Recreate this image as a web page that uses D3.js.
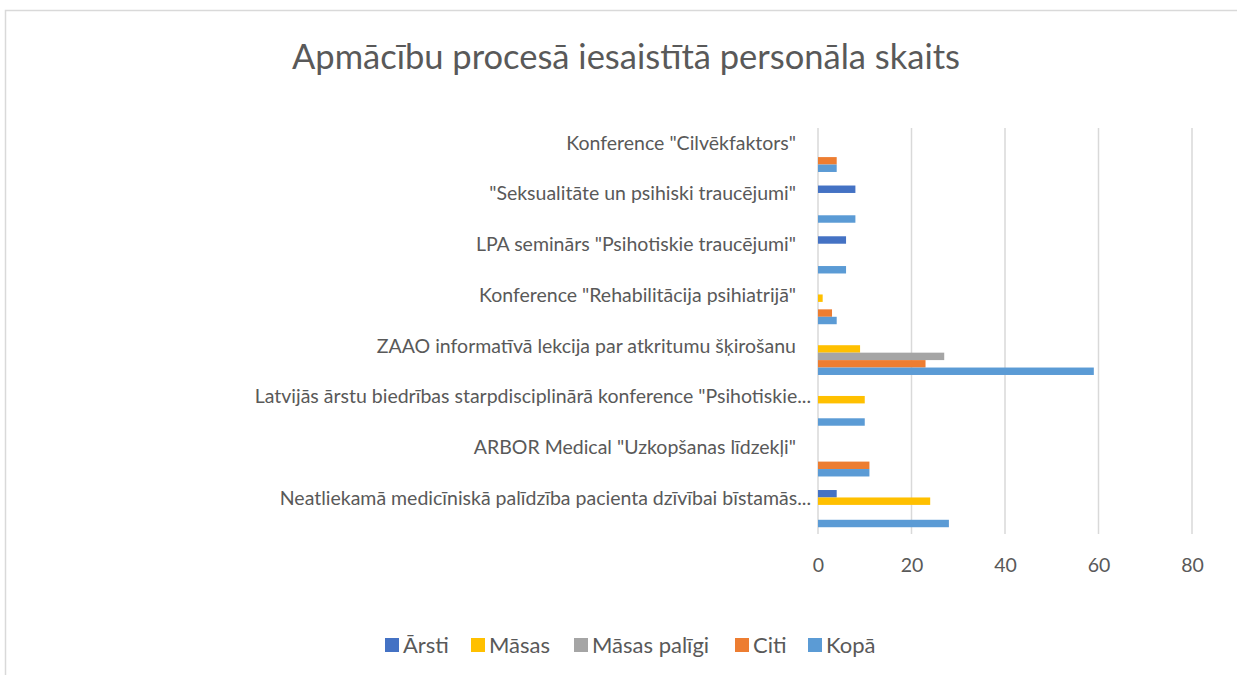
<!DOCTYPE html>
<html>
<head>
<meta charset="utf-8">
<script src="https://cdn.jsdelivr.net/npm/d3@7"></script>
<style>
	body { margin: 0; background: #ffffff; }
	svg text { font-family: Lato, "Open Sans", sans-serif; fill: #595959; }
</style>
</head>
<body>
<svg id="canvas" width="1237" height="675"></svg>
<script>
const title = 'Apmācību procesā iesaistītā personāla skaits';

// categories, top to bottom as shown
const categories = [
	'Konference "Cilvēkfaktors"',
	'"Seksualitāte un psihiski traucējumi"',
	'LPA seminārs "Psihotiskie traucējumi"',
	'Konference "Rehabilitācija psihiatrijā"',
	'ZAAO informatīvā lekcija par atkritumu šķirošanu',
	'Latvijās ārstu biedrības starpdisciplinārā konference "Psihotiskie...',
	'ARBOR Medical "Uzkopšanas līdzekļi"',
	'Neatliekamā medicīniskā palīdzība pacienta dzīvībai bīstamās...'
];

const seriesNames = ['Ārsti', 'Māsas', 'Māsas palīgi', 'Citi', 'Kopā'];
const seriesColors = ['#4472c4', '#ffc000', '#a5a5a5', '#ed7d31', '#5b9bd5'];

const arsti       = [0, 8, 6, 0, 0, 0, 0, 4];
const masas       = [0, 0, 0, 1, 9, 10, 0, 24];
const masasPaligi = [0, 0, 0, 0, 27, 0, 0, 0];
const citi        = [4, 0, 0, 3, 23, 0, 11, 0];
const kopa        = [4, 8, 6, 4, 59, 10, 11, 28];

const xTicks = [0, 20, 40, 60, 80];

const seriesValues = [arsti, masas, masasPaligi, citi, kopa];

const svg = d3.select('#canvas');

// chart border (only top and left edges are visible in the frame)
svg.append('rect')
	.attr('x', 5.5).attr('y', 10.5)
	.attr('width', 1260).attr('height', 700)
	.attr('fill', 'none')
	.attr('stroke', '#d9d9d9')
	.attr('stroke-width', 1.5);

svg.append('text')
	.attr('x', 626).attr('y', 57)
	.attr('dy', '0.35em')
	.attr('text-anchor', 'middle')
	.style('font-size', '34.5px')
	.text(title);

const x = d3.scaleLinear().domain([0, 80]).range([818, 1192]);
const y0 = d3.scaleBand().domain(categories).range([128, 534]);
const y1 = d3.scaleBand().domain(seriesNames).range([0, y0.bandwidth()]).paddingOuter(0.91);

// grid
svg.append('g').selectAll('line')
	.data(xTicks)
	.enter()
	.append('line')
	.attr('x1', (d) => x(d)).attr('x2', (d) => x(d))
	.attr('y1', 128).attr('y2', 534)
	.attr('stroke', '#d9d9d9')
	.attr('stroke-width', 1.5);

// x axis labels
const xAxis = svg.append('g')
	.attr('transform', 'translate(0,565)')
	.call(d3.axisBottom(x).tickValues(xTicks).tickSize(0).tickPadding(0));
xAxis.select('.domain').remove();
xAxis.selectAll('text').style('font-size', '19.5px').attr('y', 0).attr('dy', '0.35em');

// bars
const groups = svg.append('g').selectAll('g')
	.data(categories)
	.enter()
	.append('g')
	.attr('transform', (d) => 'translate(0,' + y0(d) + ')');

groups.selectAll('rect')
	.data((d, i) => seriesNames.map((s, j) => ({ s: s, v: seriesValues[j][i], c: seriesColors[j] })))
	.enter()
	.append('rect')
	.attr('x', x(0))
	.attr('y', (d) => y1(d.s))
	.attr('width', (d) => x(d.v) - x(0))
	.attr('height', y1.bandwidth())
	.attr('fill', (d) => d.c);

// category labels
svg.append('g').selectAll('text')
	.data(categories)
	.enter()
	.append('text')
	.attr('x', (d) => d.endsWith('...') ? 811 : 796)
	.attr('y', (d) => y0(d) + y0.bandwidth() / 2 - 10.5)
	.attr('dy', '0.35em')
	.attr('text-anchor', 'end')
	.style('font-size', '19.5px')
	.text((d) => d);

// legend
const legendX = [385, 471, 574, 735, 808];
const legend = svg.append('g').selectAll('g')
	.data(seriesNames)
	.enter()
	.append('g')
	.attr('transform', (d, i) => 'translate(' + legendX[i] + ',645)');
legend.append('rect')
	.attr('x', 0).attr('y', -7)
	.attr('width', 14).attr('height', 14)
	.attr('fill', (d, i) => seriesColors[i]);
legend.append('text')
	.attr('x', 18).attr('dy', '0.35em')
	.style('font-size', '22px')
	.text((d) => d);
</script>
</body>
</html>
